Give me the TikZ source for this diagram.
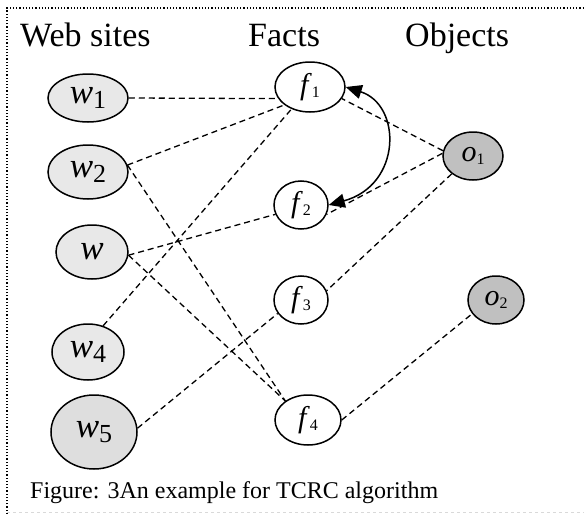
\documentclass[tikz,border=0pt]{standalone}
\usepackage{fontspec}
\setmainfont{Liberation Serif}
\usetikzlibrary{shapes.geometric,arrows.meta}

\definecolor{siteGray}{HTML}{E8E8E8}
\definecolor{siteDark}{HTML}{DEDEDE}
\definecolor{objGray}{HTML}{C0C0C0}

% italic letter with an upright subscript
\newcommand\wlab[1]{\fontsize{35}{35}\selectfont\textit{w}\raisebox{-5pt}{\fontsize{26}{26}\selectfont #1}}
\newcommand\flab[2]{\fontsize{30}{30}\selectfont\textit{#1}\raisebox{-3pt}{\fontsize{16}{16}\selectfont #2}}

\tikzset{
  nodebase/.style={ellipse, draw, line width=1.5pt, inner sep=0pt},
  site/.style={nodebase, fill=siteGray},
  fact/.style={nodebase, fill=white},
  obj/.style={nodebase, fill=objGray},
  link/.style={dash pattern=on 6pt off 4pt, line width=1.3pt},
  head/.style={anchor=base west, inner sep=0pt, font=\fontsize{34}{34}\selectfont},
  bigtip/.tip={Triangle[length=16pt,width=14pt]},
}

\begin{document}
\begin{tikzpicture}[x=1pt,y=-1pt]
\useasboundingbox (0,0) rectangle (584,514);

% frame
\draw[line width=1.2pt, dotted] (7,514) -- (7,8) -- (584,8);
\draw[line width=0.6pt, dashed, black!15] (7,512) -- (584,512);

% column headings
\node[head] (hw) at (20,46) {Web sites};
\node[head] (hf) at (248,46) {Facts};
\node[head] (ho) at (405,46) {Objects};

% web sites
\node[site, minimum width=80, minimum height=48] (w1) at (88,98) {\wlab{1}};
\node[site, minimum width=80, minimum height=54] (w2) at (88,172) {\wlab{2}};
\node[site, minimum width=72, minimum height=54] (w3) at (92,252) {\fontsize{35}{35}\selectfont\textit{w}};
\node[site, minimum width=72, minimum height=56] (w4) at (88,352) {\wlab{4}};
\node[site, fill=siteDark, minimum width=86, minimum height=74] (w5) at (94,432) {\wlab{5}};

% facts
\node[fact, minimum width=70, minimum height=50] (f1) at (310,87) {\flab{f}{1}};
\node[fact, minimum width=54, minimum height=48] (f2) at (301,205) {\flab{f}{2}};
\node[fact, minimum width=54, minimum height=48] (f3) at (301,300) {\flab{f}{3}};
\node[fact, minimum width=66, minimum height=50] (f4) at (308,420) {\flab{f}{4}};

% objects
\node[obj, minimum width=60, minimum height=48] (o1) at (473,156) {\flab{o}{1}};
\node[obj, minimum width=56, minimum height=48] (o2) at (496,300) {\flab{o}{2}};

% site-fact links
\draw[link] (w1.east) -- (f1.200);
\draw[link] (w2.10) -- (f1.215);
\draw[link] (w2.10) -- (f4.140);
\draw[link] (w3.-5) -- (f2.200);
\draw[link] (w3.-5) -- (f4.140);
\draw[link] (w4.60) -- (f1.230);
\draw[link] (w5.5) -- (f3.210);

% fact-object links
\draw[link] (o1.170) -- (f1.-20);
\draw[link] (o1.175) -- (f2.-20);
\draw[link] (o1.220) -- (f3.20);
\draw[link] (f4.east) -- (o2.210);

% mutual relation between f1 and f2
\draw[line width=1.5pt, {bigtip}-{bigtip}]
  (f1.east) .. controls (402,105) and (402,185) .. (f2.east);

% caption
\node[anchor=base west, inner sep=0pt, font=\fontsize{24}{24}\selectfont] (cap) at (30,498)
  {Figure: 3An example for TCRC algorithm};
\end{tikzpicture}
\end{document}
